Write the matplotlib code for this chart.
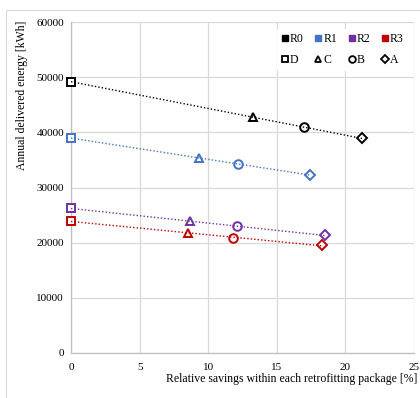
import numpy as np
import matplotlib.pyplot as plt
from matplotlib.lines import Line2D
from matplotlib.patches import Rectangle

plt.rcParams['font.family'] = ['Liberation Serif', 'DejaVu Serif']

# Retrofitting levels (series) and packages (marker per point)
levels = ['R0', 'R1', 'R2', 'R3']
packages = ['D', 'C', 'B', 'A']
colors = ['#000000', '#4472C4', '#7030A0', '#C00000']
markers = {'D': 's', 'C': '^', 'B': 'o', 'A': 'D'}

# Relative savings [%] for packages D, C, B, A
savings_r0 = [0.0, 13.3, 17.0, 21.2]
savings_r1 = [0.0, 9.3, 12.2, 17.4]
savings_r2 = [0.0, 8.7, 12.1, 18.5]
savings_r3 = [0.0, 8.5, 11.8, 18.3]

# Annual delivered energy [kWh] for packages D, C, B, A
energy_r0 = [49200, 42700, 40900, 38950]
energy_r1 = [39000, 35300, 34250, 32300]
energy_r2 = [26200, 23900, 23000, 21300]
energy_r3 = [23900, 21750, 20900, 19500]

savings = [savings_r0, savings_r1, savings_r2, savings_r3]
energy = [energy_r0, energy_r1, energy_r2, energy_r3]

x_ticks = [0, 5, 10, 15, 20, 25]
y_ticks = [0, 10000, 20000, 30000, 40000, 50000, 60000]

fig = plt.figure(figsize=(4.20, 3.98), dpi=100)
ax = fig.add_axes([71 / 420, 1 - 353 / 398, (414 - 71) / 420, (353 - 22) / 398])

# Outer chart frame
fig.patches.append(Rectangle((6 / 420, -0.01), 1.2, 1 - 10 / 398 + 0.01,
                             transform=fig.transFigure, fill=False,
                             edgecolor='#D9D9D9', linewidth=0.8))

for xs, ys, c in zip(savings, energy, colors):
    xs = np.asarray(xs)
    ys = np.asarray(ys)
    k, b = np.polyfit(xs, ys, 1)
    xl = np.array([xs.min(), xs.max()])
    ax.plot(xl, k * xl + b, linestyle=(0, (1, 1.5)), color=c, linewidth=1.0,
            zorder=4, clip_on=False)
    for x, y, p in zip(xs, ys, packages):
        ax.plot(x, y, marker=markers[p], markersize=6.2 if p != 'A' else 5.3,
                markerfacecolor='white', markeredgecolor=c, markeredgewidth=1.4,
                linestyle='none', zorder=3, clip_on=False)

ax.set_xlim(0, 25)
ax.set_ylim(0, 60000)
ax.set_xticks(x_ticks)
ax.set_yticks(y_ticks)
ax.set_xticklabels([str(t) for t in x_ticks])
ax.set_yticklabels([str(t) for t in y_ticks])
ax.grid(True, color='#D9D9D9', linewidth=0.9)
ax.set_axisbelow(True)
for s in ['top', 'right']:
    ax.spines[s].set_visible(False)
for s in ['left', 'bottom']:
    ax.spines[s].set_color('#BFBFBF')
    ax.spines[s].set_linewidth(0.9)
ax.tick_params(axis='x', length=0, labelsize=8, colors='#404040', pad=7)
ax.tick_params(axis='y', length=0, labelsize=8, colors='#404040', pad=5)
for lbl in ax.get_xticklabels() + ax.get_yticklabels():
    lbl.set_color('#000000')

fig.text(22 / 420, 1 - 95 / 398, 'Annual delivered energy [kWh]', rotation=90,
         ha='center', va='center', fontsize=8.5)
fig.text(417 / 420, 1 - 379 / 398, 'Relative savings within each retrofitting package [%]',
         ha='right', va='center', fontsize=8.5)

# Legend: colour for level, marker shape for package
handles = []
for lvl, c, p in zip(levels, colors, packages):
    handles.append(Line2D([], [], marker='s', color=c, linestyle='none',
                          markersize=5, label=lvl))
    handles.append(Line2D([], [], marker=markers[p], linestyle='none',
                          markerfacecolor='white', markeredgecolor='black',
                          markeredgewidth=1.3, markersize=4.8 if p != 'A' else 4.0, label=p))
leg = ax.legend(handles=handles, ncol=4, loc='upper right',
                bbox_to_anchor=(1.0, 0.998), frameon=True, fontsize=8.5,
                handlelength=0.6, handletextpad=0.1, columnspacing=0.95,
                labelspacing=0.75, borderpad=0.4)
leg.get_frame().set_edgecolor('none')
leg.get_frame().set_facecolor('white')
leg.get_frame().set_alpha(1.0)
leg.set_zorder(5)

fig.savefig('out.png', dpi=100)
